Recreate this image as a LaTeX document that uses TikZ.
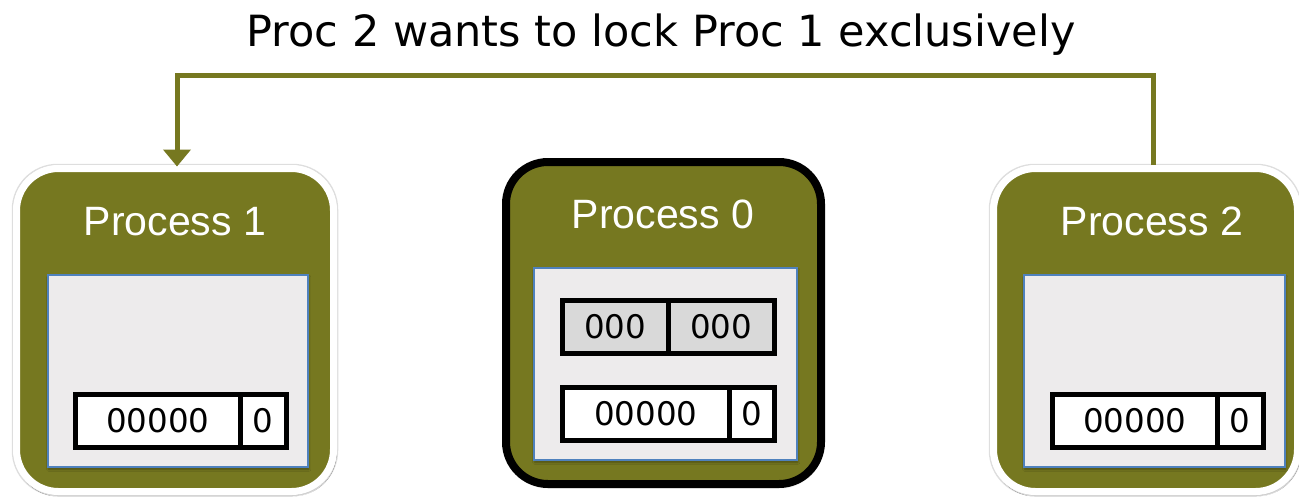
\documentclass[tikz,border=0pt]{standalone}
\usepackage{fontspec}
\setmainfont{Liberation Sans}
\newfontfamily\dejavu{DejaVu Sans}
\usetikzlibrary{arrows.meta,shadows.blur}
\definecolor{olive}{RGB}{118,120,32}
\definecolor{panelfill}{RGB}{237,235,236}
\definecolor{panelline}{RGB}{79,129,189}
\definecolor{cellgray}{RGB}{217,217,217}
\begin{document}
\begin{tikzpicture}[x=1pt,y=-1pt,
  procbox/.style={rectangle,rounded corners=42pt,fill=olive,inner sep=0pt,
    blur shadow={shadow blur steps=6,shadow xshift=1pt,shadow yshift=-3pt,shadow opacity=25}},
  halo/.style={rectangle,rounded corners=45pt,draw=black!13,line width=1.5pt,inner sep=0pt},
  plainproc/.style={procbox,draw=white,line width=7pt},
  activeproc/.style={procbox,draw=black,line width=8pt},
  proclabel/.style={text=white,font=\fontsize{41}{45}\selectfont,inner sep=0pt,anchor=base},
  panel/.style={rectangle,fill=panelfill,draw=panelline,line width=1.5pt,inner sep=0pt,anchor=north west,
    blur shadow={shadow blur steps=4,shadow xshift=1pt,shadow yshift=-2.5pt,shadow opacity=35}},
  cell/.style={rectangle,draw=black,line width=4.5pt,inner sep=0pt,anchor=north west,
    minimum height=53pt,font=\dejavu\fontsize{32.5}{36}\selectfont},
  conn/.style={draw=olive,line width=5pt,-{Triangle[width=27pt,length=17pt]}}
]
\useasboundingbox (0,0) rectangle (1299,496);

% title
\node[font=\dejavu\fontsize{43}{46}\selectfont,anchor=base,inner sep=0pt] (title) at (661,46) {Proc 2 wants to lock Proc 1 exclusively};

% faint outlines outside the white borders
\node[halo,minimum width=325pt,minimum height=331pt] (h1) at (175,330) {};
\node[halo,minimum width=312pt,minimum height=331pt] (h2) at (1145.5,330) {};

% process boxes
\node[plainproc,minimum width=317pt,minimum height=323pt] (p1) at (175,330) {};
\node[activeproc,minimum width=315pt,minimum height=322pt] (p0) at (663.5,323) {};
\node[plainproc,minimum width=304pt,minimum height=323pt] (p2) at (1145.5,330) {};

\node[proclabel] (l1) at (175,235) {Process 1};
\node[proclabel] (l0) at (663,228) {Process 0};
\node[proclabel] (l2) at (1152,235) {Process 2};

% panels
\node[panel,minimum width=260pt,minimum height=192pt] (w1) at (47,274) {};
\node[panel,minimum width=263pt,minimum height=192pt] (w0) at (533,267) {};
\node[panel,minimum width=261pt,minimum height=192pt] (w2) at (1023,274) {};

% records process 1
\node[cell,fill=white,minimum width=165pt] (a1) at (73,392) {00000};
\node[cell,fill=white,minimum width=46pt] (b1) at (238,392) {0};

% records process 0
\node[cell,fill=cellgray,minimum width=106pt] (c0) at (560,298) {000};
\node[cell,fill=cellgray,minimum width=106pt] (d0) at (666,298) {000};
\node[cell,fill=white,minimum width=167pt] (a0) at (560,385) {00000};
\node[cell,fill=white,minimum width=45pt] (b0) at (727,385) {0};

% records process 2
\node[cell,fill=white,minimum width=165pt] (a2) at (1050,392) {00000};
\node[cell,fill=white,minimum width=46pt] (b2) at (1215,392) {0};

% connector
\coordinate (top) at (660,75);
\draw[conn] ([xshift=7.5pt]p2.north) |- (top) -| ([xshift=2pt,yshift=-1.5pt]p1.north);
\end{tikzpicture}
\end{document}
